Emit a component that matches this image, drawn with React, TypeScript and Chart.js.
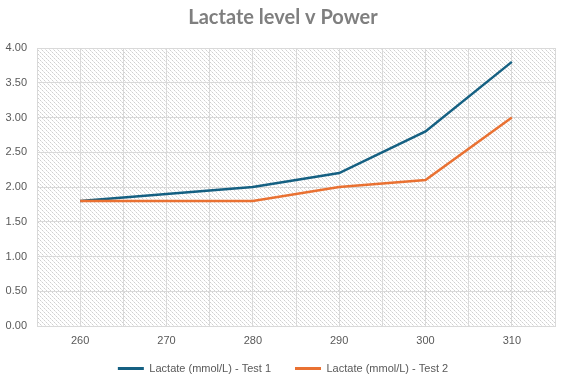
import React, { useEffect, useRef } from "react";
import { Chart, registerables } from "chart.js";

Chart.register(...registerables);

const powers = [260, 270, 280, 290, 300, 310];
const test1 = [1.8, 1.9, 2.0, 2.2, 2.8, 3.8];
const test2 = [1.8, 1.8, 1.8, 2.0, 2.1, 3.0];
const seriesNames = ["Lactate (mmol/L) - Test 1", "Lactate (mmol/L) - Test 2"];
const titleText = "Lactate level v Power";

const BLUE = "#156082";
const ORANGE = "#E97132";
const TEXT = "#595959";
const GRID = "#d9d9d9";

function makePattern(): CanvasPattern | string {
  const c = document.createElement("canvas");
  c.width = 4;
  c.height = 4;
  const g = c.getContext("2d");
  if (!g) return "#eee";
  g.fillStyle = "#d0d0d0";
  g.fillRect(0, 0, 1, 1);
  g.fillRect(2, 2, 1, 1);
  g.fillStyle = "#e6e6e6";
  g.fillRect(1, 1, 1, 1);
  g.fillRect(3, 3, 1, 1);
  return g.createPattern(c, "repeat") || "#eee";
}

const hatchPlugin = {
  id: "hatch",
  afterLayout(chart: any) {
    const lg = chart.legend;
    if (lg) {
      lg.top -= 11;
      lg.bottom -= 11;
    }
  },
  beforeDraw(chart: any) {
    const { ctx, chartArea } = chart;
    ctx.save();
    ctx.fillStyle = makePattern();
    ctx.fillRect(chartArea.left, chartArea.top, chartArea.right - chartArea.left, chartArea.bottom - chartArea.top);
    ctx.restore();
  },
};

export default function App() {
  const ref = useRef<HTMLCanvasElement>(null);
  useEffect(() => {
    document.body.style.margin = "0";
    const ctx = ref.current!;
    const chart = new Chart(ctx, {
      type: "line",
      data: {
        datasets: [
          {
            label: seriesNames[0],
            data: powers.map((p, i) => ({ x: p, y: test1[i] })),
            borderColor: BLUE,
            backgroundColor: BLUE,
            borderWidth: 2.5,
            pointRadius: 0,
            tension: 0,
            order: 1,
          },
          {
            label: seriesNames[1],
            data: powers.map((p, i) => ({ x: p, y: test2[i] })),
            borderColor: ORANGE,
            backgroundColor: ORANGE,
            borderWidth: 2.5,
            pointRadius: 0,
            tension: 0,
            order: 0,
          },
        ],
      },
      options: {
        animation: false,
        responsive: false,
        layout: { padding: { left: 0, right: 0, top: 0, bottom: -13 } },
        plugins: {
          title: {
            display: true,
            text: titleText,
            color: "#7f7f7f",
            font: { family: "Lato", size: 20, weight: "bold" },
            padding: { top: 6, bottom: 18 },
          },
          legend: {
            position: "bottom",
            labels: {
              color: TEXT,
              font: { family: "Liberation Sans", size: 11 },
              boxWidth: 26,
              boxHeight: 3,
              padding: 24,
              sort: (a: any, b: any) => a.datasetIndex - b.datasetIndex,
              generateLabels: (ch: any) => {
                const items = Chart.defaults.plugins.legend.labels.generateLabels(ch);
                return items.map((it: any) => ({ ...it, lineWidth: 0 }));
              },
            },
          },
          tooltip: { enabled: false },
        },
        scales: {
          x: {
            type: "linear",
            min: 255,
            max: 315,
            afterBuildTicks: (scale: any) => {
              const t = [];
              for (let v = 255; v <= 315; v += 5) t.push({ value: v });
              scale.ticks = t;
            },
            ticks: {
              autoSkip: false,
              maxRotation: 0,
              color: TEXT,
              font: { family: "Liberation Sans", size: 11 },
              padding: 8,
              callback: (v: any) => (Number(v) % 10 === 0 ? String(v) : ""),
            },
            grid: { color: GRID, drawTicks: false },
            border: { color: GRID },
            afterFit: (scale: any) => {
              scale.height = 24;
            },
          },
          y: {
            min: 0,
            max: 4,
            ticks: {
              stepSize: 0.5,
              color: TEXT,
              font: { family: "Liberation Sans", size: 11 },
              padding: 10,
              callback: (v: any) => Number(v).toFixed(2),
            },
            grid: { color: GRID, drawTicks: false },
            border: { color: GRID },
            afterFit: (scale: any) => {
              scale.width = 37;
            },
          },
          yRight: {
            position: "right",
            min: 0,
            max: 4,
            ticks: { display: false },
            grid: { display: false, drawTicks: false },
            border: { display: false },
            afterFit: (scale: any) => {
              scale.width = 11;
            },
          },
        },
      },
      plugins: [hatchPlugin],
    } as any);
    return () => chart.destroy();
  }, []);
  return <canvas ref={ref} width={566} height={382} style={{ display: "block" }} />;
}
